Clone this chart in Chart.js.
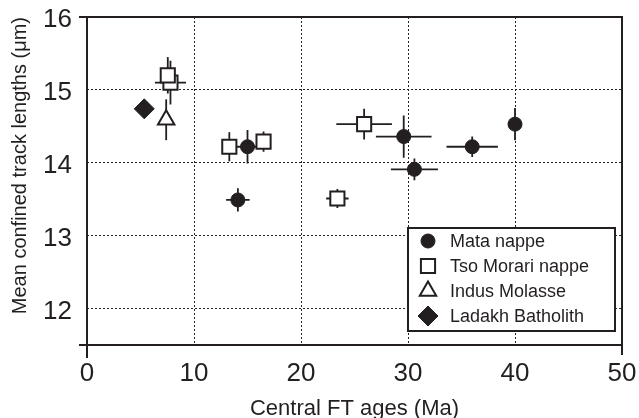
<!doctype html>
<html>

<head>
	<title>Track lengths vs FT ages</title>
	<script src="https://cdn.jsdelivr.net/npm/chart.js"></script>
	<style>
		body {
			margin: 0;
			background: #fff;
		}
		#holder {
			width: 639px;
			height: 418px;
		}
	</style>
</head>

<body>
	<div id="holder">
		<canvas id="chart-area"></canvas>
	</div>
	<script>
		const ink = '#231f20';
		const fontFamily = '"Liberation Sans", Arial, Helvetica, sans-serif';

		// Mata nappe
		const mataAge = [15.0, 14.1, 29.6, 30.6, 36.0, 40.0];
		const mataAgeErr = [1.2, 1.1, 2.6, 2.2, 2.4, 0];
		const mataLength = [14.22, 13.49, 14.36, 13.91, 14.22, 14.53];
		const mataLengthErr = [0.23, 0.16, 0.29, 0.15, 0.14, 0.22];

		// Tso Morari nappe
		const tsoAge = [7.8, 7.55, 13.3, 16.5, 23.4, 25.9];
		const tsoAgeErr = [1.45, 0, 0, 0.5, 1.05, 2.6];
		const tsoLength = [15.1, 15.2, 14.22, 14.29, 13.51, 14.53];
		const tsoLengthErr = [0.3, 0.25, 0.2, 0.14, 0.13, 0.21];

		// Indus Molasse
		const indusAge = [7.4];
		const indusAgeErr = [0];
		const indusLength = [14.59];
		const indusLengthErr = [0.28];

		// Ladakh Batholith
		const ladakhAge = [5.35];
		const ladakhLength = [14.74];

		const xTicks = [0, 10, 20, 30, 40, 50];
		const yTicks = [12, 13, 14, 15, 16];

		const toPoints = (xs, ys) => xs.map((x, i) => ({x: x, y: ys[i]}));

		// error bars, drawn under the markers
		const errorBars = {
			id: 'errorBars',
			beforeDatasetsDraw(chart) {
				const ctx = chart.ctx;
				const xs = chart.scales.x;
				const ys = chart.scales.y;
				ctx.save();
				ctx.strokeStyle = ink;
				ctx.lineWidth = 1.8;
				chart.data.datasets.forEach((ds) => {
					ds.data.forEach((p, i) => {
						const ex = ds.xErr ? ds.xErr[i] : 0;
						const ey = ds.yErr ? ds.yErr[i] : 0;
						ctx.beginPath();
						if (ex) {
							ctx.moveTo(xs.getPixelForValue(p.x - ex), ys.getPixelForValue(p.y));
							ctx.lineTo(xs.getPixelForValue(p.x + ex), ys.getPixelForValue(p.y));
						}
						if (ey) {
							ctx.moveTo(xs.getPixelForValue(p.x), ys.getPixelForValue(p.y - ey));
							ctx.lineTo(xs.getPixelForValue(p.x), ys.getPixelForValue(p.y + ey));
						}
						ctx.stroke();
					});
				});
				ctx.restore();
			}
		};

		// box frame with the small overshoots of the original
		const frame = {
			id: 'frame',
			beforeDatasetsDraw(chart) {
				const {ctx, chartArea: a} = chart;
				ctx.save();
				ctx.strokeStyle = ink;
				ctx.lineWidth = 2;
				ctx.beginPath();
				ctx.moveTo(a.left - 8, a.top);
				ctx.lineTo(a.right, a.top);
				ctx.lineTo(a.right, a.bottom + 10);
				ctx.moveTo(a.left - 8, a.bottom);
				ctx.lineTo(a.right, a.bottom);
				ctx.moveTo(a.left, a.top);
				ctx.lineTo(a.left, a.bottom + 13);
				ctx.stroke();
				ctx.restore();
			}
		};

		// legend box inside the plot, lower right
		const boxLegend = {
			id: 'boxLegend',
			afterDraw(chart) {
				const {ctx, chartArea: a} = chart;
				const w = 207, h = 103;
				const left = a.right - 7 - w;
				const top = a.bottom - 14 - h;
				ctx.save();
				ctx.fillStyle = '#fff';
				ctx.fillRect(left, top, w, h);
				ctx.strokeStyle = ink;
				ctx.lineWidth = 2;
				ctx.strokeRect(left, top, w, h);
				ctx.font = '18px ' + fontFamily;
				ctx.textBaseline = 'middle';
				ctx.textAlign = 'left';
				chart.data.datasets.forEach((ds, i) => {
					const y = top + 13 + i * 25;
					ctx.fillStyle = ds.backgroundColor;
					ctx.strokeStyle = ds.borderColor;
					ctx.lineWidth = ds.borderWidth;
					Chart.helpers.drawPoint(ctx, {
						pointStyle: ds.pointStyle,
						radius: ds.pointRadius,
						rotation: 0,
						borderWidth: ds.borderWidth
					}, left + 20, y);
					ctx.fillStyle = ink;
					ctx.fillText(ds.label, left + 42, y + 1);
				});
				ctx.restore();
			}
		};

		const config = {
			type: 'scatter',
			data: {
				datasets: [{
					label: 'Mata nappe',
					data: toPoints(mataAge, mataLength),
					xErr: mataAgeErr,
					yErr: mataLengthErr,
					pointStyle: 'circle',
					pointRadius: 7,
					backgroundColor: ink,
					borderColor: ink,
					borderWidth: 1
				}, {
					label: 'Tso Morari nappe',
					data: toPoints(tsoAge, tsoLength),
					xErr: tsoAgeErr,
					yErr: tsoLengthErr,
					pointStyle: 'rect',
					pointRadius: 10,
					backgroundColor: '#fff',
					borderColor: ink,
					borderWidth: 2
				}, {
					label: 'Indus Molasse',
					data: toPoints(indusAge, indusLength),
					xErr: indusAgeErr,
					yErr: indusLengthErr,
					pointStyle: 'triangle',
					pointRadius: 9.5,
					backgroundColor: '#fff',
					borderColor: ink,
					borderWidth: 2
				}, {
					label: 'Ladakh Batholith',
					data: toPoints(ladakhAge, ladakhLength),
					pointStyle: 'rectRot',
					pointRadius: 10,
					backgroundColor: ink,
					borderColor: ink,
					borderWidth: 1
				}]
			},
			options: {
				responsive: true,
				maintainAspectRatio: false,
				animation: false,
				events: [],
				layout: {
					padding: {left: 0, top: 17, right: 17, bottom: 0}
				},
				plugins: {
					legend: {display: false},
					tooltip: {enabled: false}
				},
				scales: {
					x: {
						type: 'linear',
						min: 0,
						max: 50,
						afterBuildTicks(scale) {
							scale.ticks = xTicks.map((v) => ({value: v}));
						},
						afterFit(scale) {
							scale.height = 73;
							scale.paddingLeft = 0;
							scale.paddingRight = 0;
						},
						grid: {
							color: (c) => (c.tick && (c.tick.value === 0 || c.tick.value === 50)) ? 'rgba(0,0,0,0)' : '#222',
							lineWidth: 1,
							drawTicks: false
						},
						border: {display: false, dash: [2, 2]},
						ticks: {
							color: ink,
							padding: 13,
							font: {family: fontFamily, size: 26},
							maxRotation: 0
						},
						title: {
							display: true,
							text: 'Central FT ages (Ma)',
							color: ink,
							padding: {top: 0, bottom: 0},
							font: {family: fontFamily, size: 22, lineHeight: 0.85}
						}
					},
					y: {
						type: 'linear',
						min: 11.5,
						max: 16,
						afterBuildTicks(scale) {
							scale.ticks = yTicks.map((v) => ({value: v}));
						},
						afterFit(scale) {
							scale.width = 87;
							scale.paddingTop = 0;
							scale.paddingBottom = 0;
						},
						grid: {
							color: (c) => (c.tick && c.tick.value === 16) ? 'rgba(0,0,0,0)' : '#222',
							lineWidth: 1,
							drawTicks: false
						},
						border: {display: false, dash: [2, 2]},
						ticks: {
							color: ink,
							padding: 15,
							labelOffset: 3,
							font: {family: fontFamily, size: 26}
						},
						title: {
							display: true,
							text: 'Mean confined track lengths (μm)',
							color: ink,
							align: 'end',
							padding: {top: 8, bottom: 0},
							font: {family: fontFamily, size: 20}
						}
					}
				}
			},
			plugins: [frame, errorBars, boxLegend]
		};

		window.onload = function() {
			const ctx = document.getElementById('chart-area');
			window.myScatter = new Chart(ctx, config);
		};
	</script>
</body>

</html>
